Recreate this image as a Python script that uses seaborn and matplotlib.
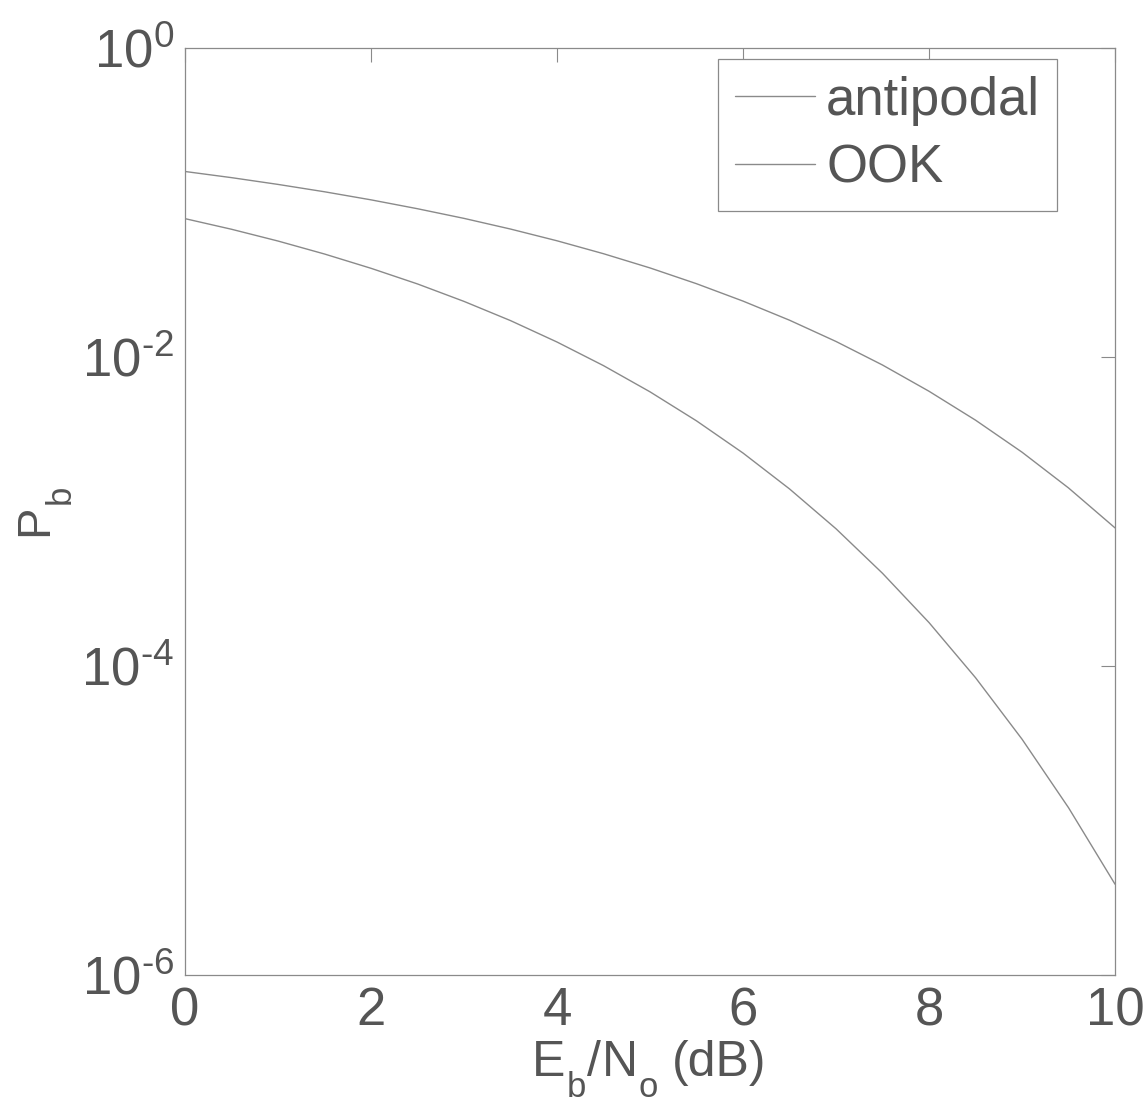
#!/usr/bin/env python3
import matplotlib
matplotlib.use('Agg')
import matplotlib.pyplot as plt
import seaborn as sns
import pandas

sns.set_style('white')
plt.rcParams['font.family'] = ['Liberation Sans', 'DejaVu Sans']
plt.rcParams['mathtext.fontset'] = 'custom'
plt.rcParams['mathtext.rm'] = 'Liberation Sans'
plt.rcParams['mathtext.it'] = 'Liberation Sans'
plt.rcParams['mathtext.default'] = 'rm'
plt.rcParams['axes.unicode_minus'] = False

# Eb/No in dB
ebno_db = [0, 0.5, 1, 1.5, 2, 2.5, 3, 3.5, 4, 4.5, 5,
           5.5, 6, 6.5, 7, 7.5, 8, 8.5, 9, 9.5, 10]
pb_antipodal = [0.0786, 0.0671, 0.0563, 0.0464, 0.0375, 0.0297, 0.0229,
                0.0172, 0.0125, 0.00879, 0.00595, 0.00386, 0.00239,
                0.00140, 7.73e-4, 3.98e-4, 1.91e-4, 8.4e-5, 3.36e-5,
                1.21e-5, 3.87e-6]
pb_ook = [0.1587, 0.1448, 0.1309, 0.1173, 0.1040, 0.0911, 0.0789,
          0.0673, 0.0565, 0.0466, 0.0377, 0.0298, 0.0230, 0.0173,
          0.0126, 0.00887, 0.00600, 0.00390, 0.00242, 0.00142, 7.83e-4]
series_names = ['antipodal', 'OOK']
x_ticks = [0, 2, 4, 6, 8, 10]
y_ticks = [1e-6, 1e-4, 1e-2, 1]
y_tick_labels = [r'$10^{\text{-}6}$', r'$10^{\text{-}4}$', r'$10^{\text{-}2}$', r'$10^{0}$']

text_col = '#555555'
line_col = '#8a8a8a'
W, H = 1146, 1105

data = pandas.concat([
    pandas.DataFrame({'ebno': ebno_db, 'pb': pb_antipodal, 'type': series_names[0]}),
    pandas.DataFrame({'ebno': ebno_db, 'pb': pb_ook, 'type': series_names[1]}),
])

fig = plt.figure(figsize=(W / 100, H / 100), dpi=100)
ax = fig.add_axes([0.1614, 0.1176, 0.8116, 0.839])
sns.lineplot(x='ebno', y='pb', hue='type', data=data, ax=ax,
             palette=[line_col, line_col], linewidth=1.0, legend=False)
ax.set_yscale('log')
ax.set_xlim(0, 10)
ax.set_ylim(1e-6, 1)
ax.set_xticks(x_ticks)
ax.set_yticks(y_ticks)
ax.set_yticklabels(y_tick_labels)
ax.minorticks_off()
ax.tick_params(direction='in', length=10, width=0.8, colors=line_col,
               labelcolor=text_col, labelsize=38, top=True, right=True, pad=8)
for s in ax.spines.values():
    s.set_color(line_col)
    s.set_linewidth(0.9)
ax.set_xlabel('')
ax.set_ylabel('')

# axis labels with MATLAB-style low subscripts (pixel positions of the text)
def put(s, x, y, size, rot=0):
    fig.text(x / W, 1 - y / H, s, fontsize=size, color=text_col,
             ha='left', va='baseline', rotation=rot, rotation_mode='anchor')

put('E', 532, 1076, 36)
put('b', 567, 1097, 25)
put('/', 587, 1076, 36)
put('N', 602, 1076, 36)
put('o', 639, 1097, 25)
put('(dB)', 672, 1076, 36)

put('P', 47, 536, 34, rot=90)
put('b', 70, 504, 25, rot=90)

leg = ax.legend(ax.get_lines()[:2], series_names, loc='upper right',
                bbox_to_anchor=(0.9376, 0.988), fontsize=38, handlelength=1.5,
                handletextpad=0.22, borderpad=0.32, labelspacing=0.34,
                fancybox=False, framealpha=1, edgecolor=line_col,
                borderaxespad=0)
leg.get_frame().set_linewidth(0.9)
for t in leg.get_texts():
    t.set_color(text_col)

fig.savefig('out.png', dpi=100)
